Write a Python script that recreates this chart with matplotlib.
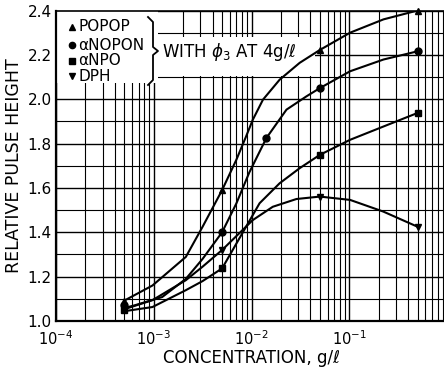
import numpy as np
import matplotlib
matplotlib.use("Agg")
import matplotlib.pyplot as plt
from matplotlib.ticker import LogLocator, NullFormatter, FixedLocator
from matplotlib.patches import Rectangle
from matplotlib.lines import Line2D

# ---- data ----
# curve traces (concentration g/l, relative pulse height)
popop_x = [5.15e-4, 9.7e-4, 2.13e-3, 3.16e-3, 5e-3, 7e-3, 8.8e-3, 1.03e-2, 1.31e-2,
           1.94e-2, 3.11e-2, 5e-2, 0.102, 0.224, 0.5]
popop_y = [1.095, 1.16, 1.289, 1.425, 1.59, 1.727, 1.832, 1.907, 1.998,
           2.088, 2.164, 2.222, 2.30, 2.36, 2.40]

anopon_x = [5.15e-4, 6.3e-4, 1.22e-3, 2.13e-3, 3.16e-3, 5e-3, 7e-3, 9.5e-3, 1.2e-2,
            1.42e-2, 2.28e-2, 3.65e-2, 5e-2, 0.102, 0.224, 0.5]
anopon_y = [1.06, 1.07, 1.108, 1.19, 1.28, 1.40, 1.53, 1.67, 1.76,
            1.825, 1.953, 2.013, 2.05, 2.126, 2.179, 2.216]

anpo_x = [5.15e-4, 9.7e-4, 2.13e-3, 3.16e-3, 5e-3, 8.8e-3, 1.21e-2, 1.94e-2,
          3.11e-2, 5e-2, 0.102, 0.224, 0.5]
anpo_y = [1.045, 1.063, 1.139, 1.18, 1.237, 1.425, 1.531, 1.621,
          1.689, 1.749, 1.817, 1.877, 1.938]

dph_x = [5.15e-4, 9.7e-4, 2.13e-3, 3.16e-3, 5e-3, 1.03e-2, 1.65e-2, 2.88e-2,
         5e-2, 0.102, 0.224, 0.5]
dph_y = [1.055, 1.094, 1.184, 1.245, 1.32, 1.455, 1.515, 1.55,
         1.561, 1.546, 1.493, 1.425]

# measured points (markers)
popop_px = [5e-4, 5e-3, 5e-2, 0.5]
popop_py = [1.09, 1.59, 2.22, 2.40]
anopon_px = [5e-4, 5e-3, 1.42e-2, 5e-2, 0.5]
anopon_py = [1.07, 1.40, 1.825, 2.05, 2.216]
anpo_px = [5e-4, 5e-3, 5e-2, 0.5]
anpo_py = [1.05, 1.237, 1.749, 1.938]
dph_px = [5e-4, 5e-3, 5e-2, 0.5]
dph_py = [1.06, 1.32, 1.561, 1.425]

series_names = ["POPOP", "\u03b1NOPON", "\u03b1NPO", "DPH"]
series_markers = ["^", "o", "s", "v"]

yticks = [1.0, 1.2, 1.4, 1.6, 1.8, 2.0, 2.2, 2.4]
xticks = [1e-4, 1e-3, 1e-2, 1e-1]
xticklabels = [r"$10^{-4}$", r"$10^{-3}$", r"$10^{-2}$", r"$10^{-1}$"]

plt.rcParams['font.family'] = ['DejaVu Sans']

fig = plt.figure(figsize=(4.44, 3.68), dpi=100)
ax = fig.add_axes([56/444, 1 - 321/368, (447 - 56)/444, (321 - 10.5)/368])
ax.set_xscale('log')
ax.set_xlim(1e-4, 1.0)
ax.set_ylim(1.0, 2.4)

ax.set_yticks(yticks)
ax.set_yticklabels([f"{v:.1f}" for v in yticks])
ax.yaxis.set_minor_locator(FixedLocator(np.arange(1.1, 2.4, 0.2)))
ax.xaxis.set_major_locator(FixedLocator(xticks))
ax.set_xticklabels(xticklabels)
ax.xaxis.set_minor_locator(LogLocator(base=10, subs=np.arange(2, 10), numticks=20))
ax.xaxis.set_minor_formatter(NullFormatter())
ax.tick_params(which='both', length=0)
ax.tick_params(axis='y', labelsize=11, pad=3)
ax.tick_params(axis='x', labelsize=10.5, pad=6)

ax.set_axisbelow(True)
ax.grid(True, which='major', color='black', lw=1.0)
ax.grid(True, which='minor', color='black', lw=0.8)

for s in ['left', 'bottom']:
    ax.spines[s].set_linewidth(1.6)
ax.spines['top'].set_linewidth(1.2)
ax.spines['right'].set_visible(False)

# white boxes over the grid for the key and annotation
ax.add_patch(Rectangle((0.0, 0.765), 0.262, 0.235, transform=ax.transAxes,
                       facecolor='white', edgecolor='none', zorder=1))
ax.add_patch(Rectangle((0.262, 0.79), 0.40, 0.125, transform=ax.transAxes,
                       facecolor='white', edgecolor='none', zorder=1))

traces = [(popop_x, popop_y), (anopon_x, anopon_y), (anpo_x, anpo_y), (dph_x, dph_y)]
points = [(popop_px, popop_py), (anopon_px, anopon_py), (anpo_px, anpo_py), (dph_px, dph_py)]
for (tx, ty), (px, py), m in zip(traces, points, series_markers):
    ax.plot(tx, ty, color='black', lw=1.5, zorder=3, solid_capstyle='round',
            solid_joinstyle='round')
    ax.plot(px, py, ls='none', marker=m, ms=5, color='black', zorder=4, clip_on=False)

# key
fx = lambda p: (p - 56) / 391
fy = lambda p: (321 - p) / 310.5
key_rows = [26.5, 45, 60.5, 76]
for name, m, row in zip(series_names, series_markers, key_rows):
    ax.plot([fx(72)], [fy(row)], marker=m, ms=4.5, color='black', ls='none',
            transform=ax.transAxes, zorder=5, clip_on=False)
    ax.text(fx(78), fy(row), name, transform=ax.transAxes, fontsize=11,
            va='center', ha='left', zorder=5)

# brace
bx = [fx(148), fx(153), fx(153), fx(158), fx(153), fx(153), fx(148)]
by = [fy(17), fy(22), fy(47), fy(51), fy(55), fy(80), fy(85)]
ax.add_line(Line2D(bx, by, transform=ax.transAxes, color='black', lw=1.3, zorder=5))

ax.text(fx(162), fy(52), "WITH $\\phi_3$ AT 4g/\u2113", transform=ax.transAxes,
        fontsize=12, va='center', ha='left', zorder=5)

ax.set_xlabel("CONCENTRATION, g/\u2113", fontsize=12, labelpad=1)
ax.set_ylabel("RELATIVE PULSE HEIGHT", fontsize=12.5, labelpad=3)

fig.savefig("out.png", dpi=100)
